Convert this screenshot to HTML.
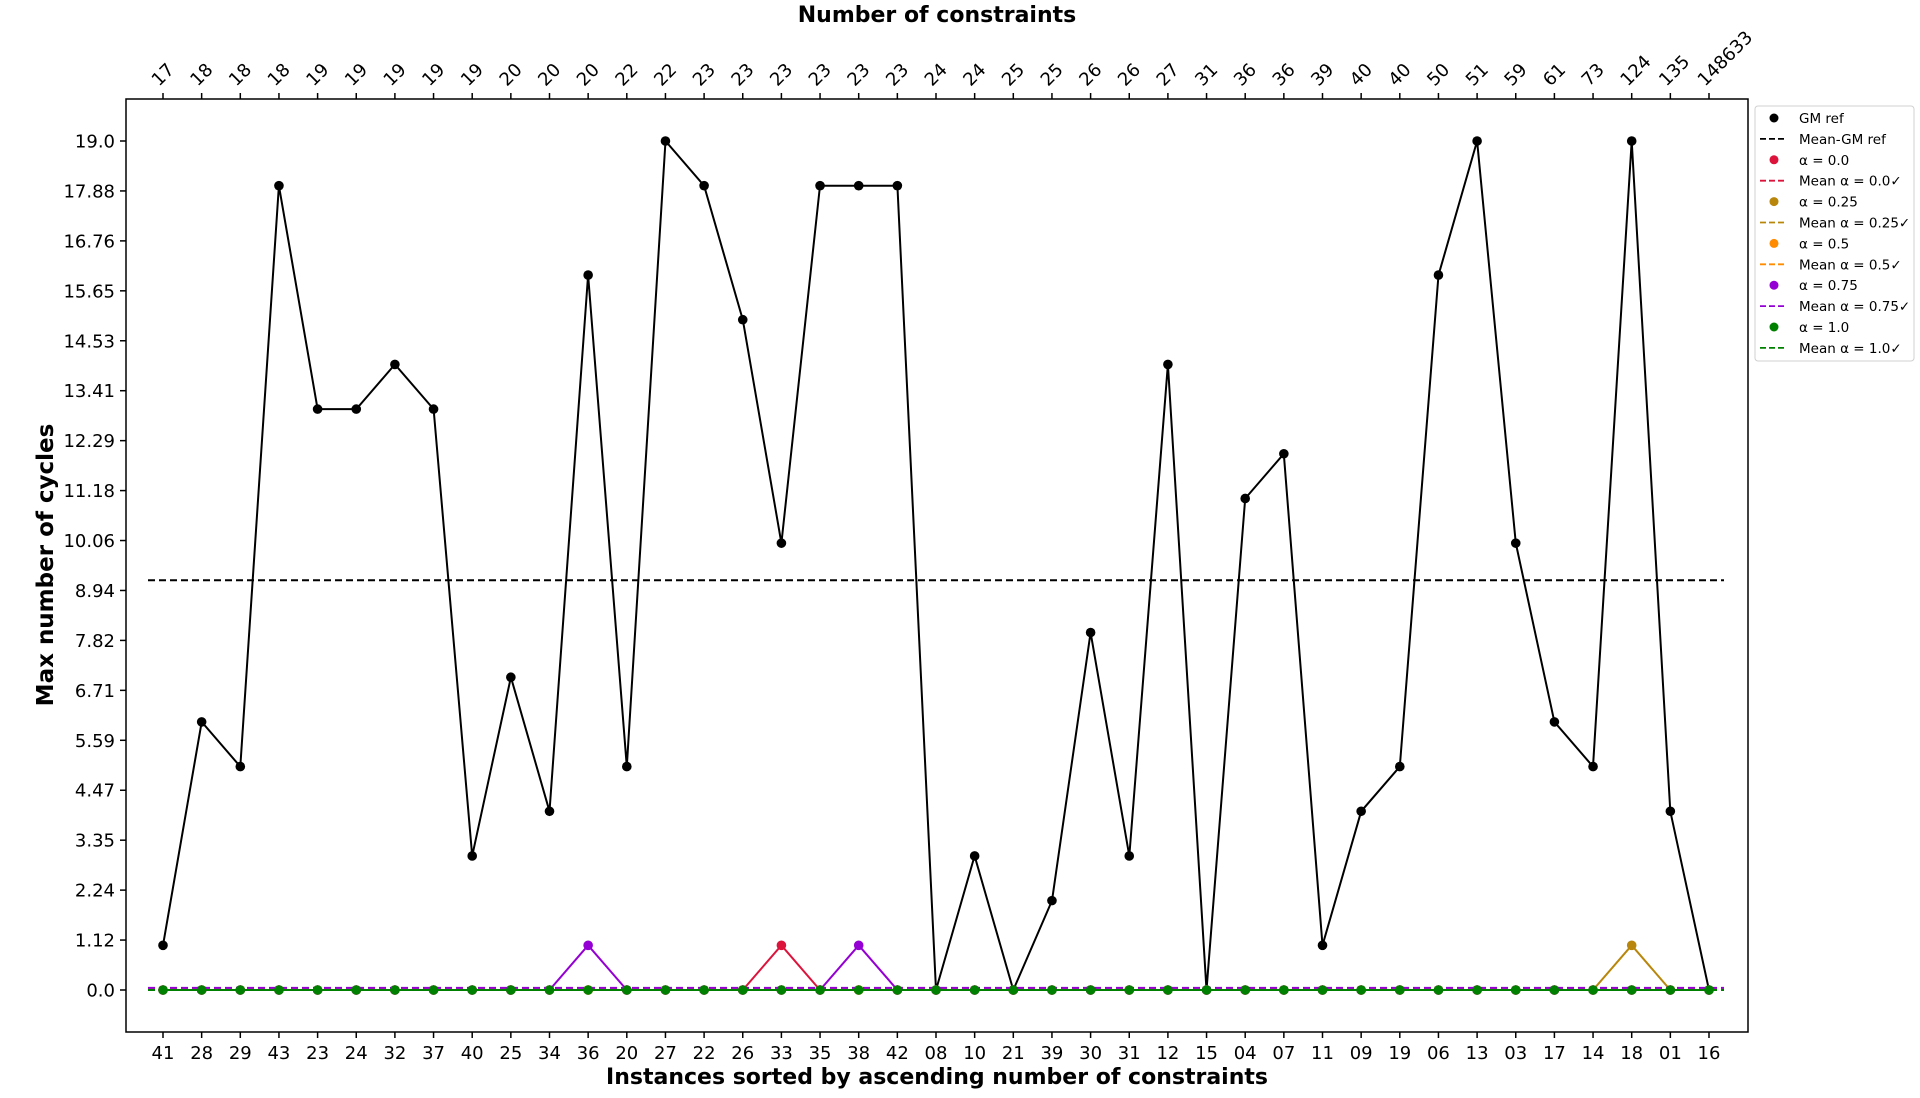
<!DOCTYPE html>
<html><head><meta charset="utf-8"><style>
html,body{margin:0;padding:0;background:#fff;}
svg{display:block;font-family:"DejaVu Sans","Liberation Sans",sans-serif;}
</style></head><body>
<svg id="chart" width="1920" height="1098" viewBox="0 0 1920 1098" xmlns="http://www.w3.org/2000/svg">
<rect x="0" y="0" width="1920" height="1098" fill="#fff"/>
<g id="plot"></g>
<rect x="126" y="99" width="1622" height="933" fill="none" stroke="#000" stroke-width="1.5"/>
<text x="937" y="22" text-anchor="middle" font-size="22" font-weight="bold">Number of constraints</text>
<text x="937" y="1084" text-anchor="middle" font-size="22" font-weight="bold">Instances sorted by ascending number of constraints</text>
<text transform="translate(53,565) rotate(-90)" text-anchor="middle" font-size="23" font-weight="bold">Max number of cycles</text>
<g id="legend"></g>
</svg>
<script>
const instances = ["41","28","29","43","23","24","32","37","40","25","34","36","20","27","22","26","33","35","38","42","08","10","21","39","30","31","12","15","04","07","11","09","19","06","13","03","17","14","18","01","16"];
const constraints = ["17","18","18","18","19","19","19","19","19","20","20","20","22","22","23","23","23","23","23","23","24","24","25","25","26","26","27","31","36","36","39","40","40","50","51","59","61","73","124","135","148633"];
const gmRef = [1,6,5,18,13,13,14,13,3,7,4,16,5,19,18,15,10,18,18,18,0,3,0,2,8,3,14,0,11,12,1,4,5,16,19,10,6,5,19,4,0];
const alpha00 = [0,0,0,0,0,0,0,0,0,0,0,0,0,0,0,0,1,0,0,0,0,0,0,0,0,0,0,0,0,0,0,0,0,0,0,0,0,0,0,0,0];
const alpha025 = [0,0,0,0,0,0,0,0,0,0,0,0,0,0,0,0,0,0,0,0,0,0,0,0,0,0,0,0,0,0,0,0,0,0,0,0,0,0,1,0,0];
const alpha05 = [0,0,0,0,0,0,0,0,0,0,0,0,0,0,0,0,0,0,0,0,0,0,0,0,0,0,0,0,0,0,0,0,0,0,0,0,0,0,0,0,0];
const alpha075 = [0,0,0,0,0,0,0,0,0,0,0,1,0,0,0,0,0,0,1,0,0,0,0,0,0,0,0,0,0,0,0,0,0,0,0,0,0,0,0,0,0];
const alpha10 = [0,0,0,0,0,0,0,0,0,0,0,0,0,0,0,0,0,0,0,0,0,0,0,0,0,0,0,0,0,0,0,0,0,0,0,0,0,0,0,0,0];
const yTickLabels = ["0.0","1.12","2.24","3.35","4.47","5.59","6.71","7.82","8.94","10.06","11.18","12.29","13.41","14.53","15.65","16.76","17.88","19.0"];

const NS="http://www.w3.org/2000/svg";
const plot=document.getElementById('plot');
const svg=document.getElementById('chart');
const yMax=Math.max(...gmRef);
function X(i){return 163+i*(1709-163)/(instances.length-1);}
function Y(v){return 990-v*(990-141)/yMax;}
function mk(tag,attrs,parent){const e=document.createElementNS(NS,tag);for(const k in attrs)e.setAttribute(k,attrs[k]);(parent||plot).appendChild(e);return e;}
const mean=a=>a.reduce((s,v)=>s+v,0)/a.length;

yTickLabels.forEach((lab,k)=>{
  const v=k*yMax/(yTickLabels.length-1), y=Y(v);
  const t=mk('line',{x1:120,x2:126,y1:y,y2:y,stroke:'#000','stroke-width':1.5},svg);
  
  
  const tx=mk('text',{x:115,y:y+6.5,'text-anchor':'end','font-size':18},svg);
  
  
  tx.textContent=lab;
});
instances.forEach((lab,i)=>{
  const x=X(i);
  const t=mk('line',{x1:x,x2:x,y1:1032,y2:1038,stroke:'#000','stroke-width':1.5},svg);
  
  
  const tx=mk('text',{x:x,y:1059,'text-anchor':'middle','font-size':18},svg);
  
  
  tx.textContent=lab;
  const t2=mk('line',{x1:x,x2:x,y1:93,y2:99,stroke:'#000','stroke-width':1.5},svg);
  
  
  const tt=mk('text',{transform:`translate(${x-4},${87}) rotate(-45)`,'text-anchor':'start','font-size':18},svg);
  
  
  tt.textContent=constraints[i];
});

const series=[
  {name:'gm-ref',data:gmRef,color:'#000000'},
  {name:'alpha-0-0',data:alpha00,color:'#dc143c'},
  {name:'alpha-0-25',data:alpha025,color:'#b8860b'},
  {name:'alpha-0-5',data:alpha05,color:'#ff8c00'},
  {name:'alpha-0-75',data:alpha075,color:'#9400d3'},
  {name:'alpha-1-0',data:alpha10,color:'#008000'}
];
series.forEach(s=>{
  const m=mean(s.data), y=Y(m);
  const ml=mk('line',{x1:148,x2:1724,y1:y,y2:y,stroke:s.color,'stroke-width':2,'stroke-dasharray':'7,4'});
  
  
  const pts=s.data.map((v,i)=>X(i).toFixed(1)+','+Y(v).toFixed(1)).join(' ');
  const pl=mk('polyline',{points:pts,fill:'none',stroke:s.color,'stroke-width':2});
  
  
  s.data.forEach((v,i)=>{
    const c=mk('circle',{cx:X(i),cy:Y(v),r:4.8,fill:s.color});
    
    
  });
});

const lg=document.getElementById('legend');
const box=mk('rect',{x:1755,y:106,width:159,height:255,rx:3,fill:'#fff',stroke:'#d0d0d0','stroke-width':1},lg);


const legendItems=[
  ['dot','#000','GM ref'],['dash','#000','Mean-GM ref'],
  ['dot','#dc143c','α = 0.0'],['dash','#dc143c','Mean α = 0.0✓'],
  ['dot','#b8860b','α = 0.25'],['dash','#b8860b','Mean α = 0.25✓'],
  ['dot','#ff8c00','α = 0.5'],['dash','#ff8c00','Mean α = 0.5✓'],
  ['dot','#9400d3','α = 0.75'],['dash','#9400d3','Mean α = 0.75✓'],
  ['dot','#008000','α = 1.0'],['dash','#008000','Mean α = 1.0✓']
];
legendItems.forEach((it,k)=>{
  const y=118+k*20.9;
  if(it[0]==='dot'){
    const c=mk('circle',{cx:1774,cy:y,r:4.5,fill:it[1]},lg);
    
    
  } else {
    const l=mk('line',{x1:1760,x2:1787,y1:y,y2:y,stroke:it[1],'stroke-width':1.8,'stroke-dasharray':'6,3'},lg);
    
    
  }
  const t=mk('text',{x:1799,y:y+5,'font-size':13.5},lg);
  
  
  t.textContent=it[2];
});
</script>
</body></html>
